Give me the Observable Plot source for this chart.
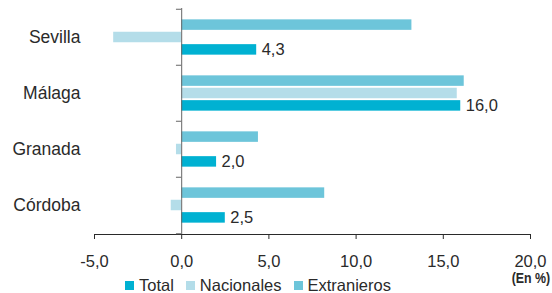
<!DOCTYPE html>
<html>
<head>
<meta charset="utf-8">
<script src="https://cdn.jsdelivr.net/npm/d3@7"></script>
<script src="https://cdn.jsdelivr.net/npm/@observablehq/plot@0.6"></script>
<style>
  body { margin: 0; background: white; font-family: "Liberation Sans", Arial, sans-serif; color: #2a2a2a; }
  #wrap { width: 552px; position: relative; }
  .legend { position: relative; height: 17px; line-height: 20px; font-size: 16.5px; display: flex; align-items: center; padding-left: 125px; }
  .item { display: flex; align-items: center; margin-right: 12px; }
  .sw { width: 9px; height: 9px; margin-right: 5px; margin-top: 2px; }
  .unit { position: absolute; right: 2px; top: -6px; font-weight: bold; font-size: 15.5px; line-height: 15px; transform: scaleX(0.8); transform-origin: right center; }
</style>
</head>
<body>
<div id="wrap"></div>
<script>
const cities = ["Sevilla", "Málaga", "Granada", "Córdoba"];
const total = [4.3, 16.0, 2.0, 2.5];
const nacionales = [-3.9, 15.8, -0.3, -0.6];
const extranjeros = [13.2, 16.2, 4.4, 8.2];
const xTicks = [-5, 0, 5, 10, 15, 20];
const seriesNames = ["Total", "Nacionales", "Extranieros"];
const seriesColors = ["#00b1d2", "#b4dde9", "#6dc5da"];

const fmt = d => d.toFixed(1).replace(".", ",");
const rows = (vals) => cities.map((c, i) => ({city: c, value: vals[i]}));
const totalRows = rows(total), nacRows = rows(nacionales), extRows = rows(extranjeros);

const band = (234 - 8) / cities.length;
const barH = 11;
const inset = (band - barH) / 2;
const off = 12.4;

const chart = Plot.plot({
  width: 552, height: 276,
  marginLeft: 94, marginRight: 22, marginTop: 8, marginBottom: 42,
  style: {fontFamily: "'Liberation Sans', Arial, sans-serif", fontSize: "16.5px", color: "#2a2a2a", background: "white", overflow: "visible"},
  x: {domain: [-5, 20], ticks: xTicks, tickFormat: fmt, tickSize: 5, tickPadding: 16, line: true, label: null},
  y: {domain: cities, padding: 0, tickSize: 0, tickPadding: 14, label: null},
  marks: [
    Plot.barX(extRows, {y: "city", x1: 0, x2: "value", fill: seriesColors[2], insetTop: inset, insetBottom: inset, dy: -off}),
    Plot.barX(nacRows, {y: "city", x1: 0, x2: "value", fill: seriesColors[1], insetTop: inset, insetBottom: inset, dy: 0}),
    Plot.barX(totalRows, {y: "city", x1: 0, x2: "value", fill: seriesColors[0], insetTop: inset, insetBottom: inset, dy: off}),
    Plot.ruleX([0], {stroke: "#666"}),
    Plot.ruleY(cities, {y: d => d, x1: -0.3, x2: 0, dy: -band / 2, stroke: "#666"}),
    Plot.ruleY([cities[cities.length - 1]], {y: d => d, x1: -0.3, x2: 0, dy: band / 2, stroke: "#666"}),
    Plot.text(totalRows, {y: "city", x: "value", text: d => fmt(d.value), dy: off, dx: 5, textAnchor: "start", fontSize: 16.5, fill: "#2a2a2a"})
  ]
});
chart.querySelectorAll("g[aria-label='y-axis tick label'] text, g[aria-label='y-axis'] text").forEach(t => t.setAttribute("font-size", "17.5"));
document.getElementById("wrap").appendChild(chart);

const legend = document.createElement("div");
legend.className = "legend";
seriesNames.forEach((n, i) => {
  const it = document.createElement("div");
  it.className = "item";
  const sw = document.createElement("div");
  sw.className = "sw";
  sw.style.background = seriesColors[i];
  const tx = document.createElement("span");
  tx.textContent = n;
  it.appendChild(sw); it.appendChild(tx);
  legend.appendChild(it);
});
const unit = document.createElement("div");
unit.className = "unit";
unit.textContent = "(En %)";
legend.appendChild(unit);
document.getElementById("wrap").appendChild(legend);
</script>
</body>
</html>
